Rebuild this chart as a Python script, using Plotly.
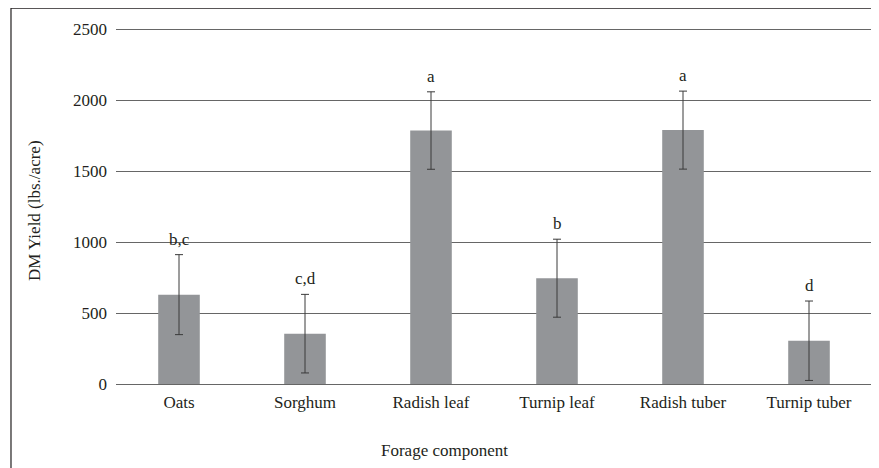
import plotly.graph_objects as go

categories = ["Oats", "Sorghum", "Radish leaf", "Turnip leaf", "Radish tuber", "Turnip tuber"]
yield_values = [630, 355, 1787, 746, 1790, 305]
error_values = [282, 277, 273, 275, 275, 280]
letters = ["b,c", "c,d", "a", "b", "a", "d"]
y_ticks = [0, 500, 1000, 1500, 2000, 2500]

FONT = "Liberation Serif, Times New Roman, serif"
TXT = "#231f20"
FS = 17

fig = go.Figure()
fig.add_trace(go.Bar(
    x=categories, y=yield_values,
    marker=dict(color="#939598", line=dict(width=0)),
    error_y=dict(type="data", array=error_values, visible=True,
                 color="#3a3a3a", thickness=1, width=4),
    showlegend=False,
))

for c, v, e, t in zip(categories, yield_values, error_values, letters):
    fig.add_annotation(x=c, y=v + e, text=t, showarrow=False,
                       yanchor="bottom", yshift=4,
                       font=dict(family=FONT, size=FS, color=TXT))

# axis titles
fig.add_annotation(xref="paper", yref="paper", x=0.434, y=0, yshift=-66,
                   text="Forage component", showarrow=False,
                   xanchor="center", yanchor="middle",
                   font=dict(family=FONT, size=FS, color=TXT))
fig.add_annotation(xref="paper", yref="paper", x=0, xshift=-81, y=0.486,
                   text="DM Yield (lbs./acre)", showarrow=False, textangle=-90,
                   xanchor="center", yanchor="middle",
                   font=dict(family=FONT, size=FS, color=TXT))

# outer frame
fig.add_shape(type="rect", xref="paper", yref="paper",
              x0=-0.1389, x1=1.2, y0=-0.5, y1=1.056,
              line=dict(color=TXT, width=1.2), fillcolor="rgba(0,0,0,0)")

fig.update_layout(
    width=871, height=460,
    margin=dict(l=108, r=7, t=20, b=84),
    paper_bgcolor="white", plot_bgcolor="white",
    bargap=0.67,
    font=dict(family=FONT, size=FS, color=TXT),
    xaxis=dict(
        showgrid=False, showline=False, ticks="", ticklabelstandoff=6,
        tickfont=dict(family=FONT, size=FS, color=TXT),
        zeroline=False,
    ),
    yaxis=dict(
        range=[0, 2510], tickvals=y_ticks, ticktext=[str(v) for v in y_ticks],
        showgrid=True, gridcolor="#666666", gridwidth=1,
        zeroline=True, zerolinecolor="#666666", zerolinewidth=1.3,
        showline=False, ticks="", ticklabelstandoff=8,
        tickfont=dict(family=FONT, size=FS, color=TXT),
    ),
)

fig.write_html("out.html")
